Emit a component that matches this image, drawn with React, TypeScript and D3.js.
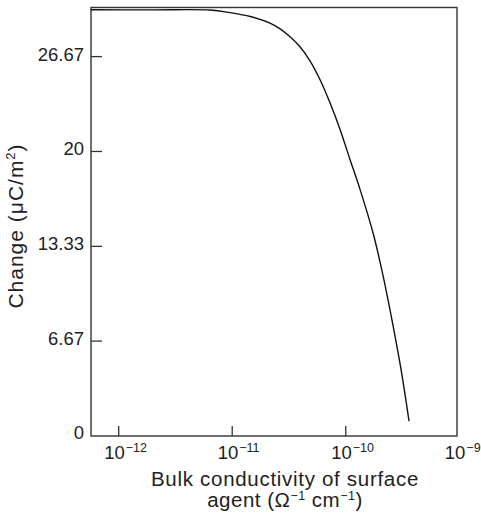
import React from "react";
import * as d3 from "d3";

// Bulk conductivity of the surface agent (Ω⁻¹ cm⁻¹)
const conductivity = [
  5.7e-13, 1.89e-12, 6.37e-12, 9.55e-12, 1.44e-11, 2.15e-11, 2.64e-11, 3.23e-11,
  3.95e-11, 4.84e-11, 5.94e-11, 7.28e-11, 8.91e-11, 1.09e-10, 1.34e-10,
  1.75e-10, 2.14e-10, 2.62e-10, 3.11e-10, 3.61e-10,
];
// Charge (µC/m²)
const charge = [
  29.96, 29.95, 29.94, 29.76, 29.49, 29.02, 28.62, 28.06, 27.36, 26.37, 25.04,
  23.4, 21.55, 19.44, 17.3, 14.2, 11.2, 7.69, 4.41, 1.05,
];

const yTicks = [0, 6.67, 13.33, 20, 26.67];
const yTickLabels = ["0", "6.67", "13.33", "20", "26.67"];
const xTickExponents = [-12, -11, -10, -9];

const W = 481;
const H = 513;
const left = 91;
const right = 457;
const top = 7.5;
const bottom = 436;
const FONT = "'Liberation Sans', Arial, Helvetica, sans-serif";
const INK = "#222";

export default function App() {
  const x = d3
    .scaleLog()
    .domain([Math.pow(10, -12.244), Math.pow(10, -9.02)])
    .range([left, right]);
  const y = d3.scaleLinear().domain([0, 30.12]).range([bottom, top]);

  const pts = conductivity.map((c, i) => [x(c), y(charge[i])] as [number, number]);
  const line = d3.line().curve(d3.curveCatmullRom.alpha(0.5))(pts) || "";

  return (
    <svg
      width={W}
      height={H}
      style={{ position: "absolute", left: 0, top: 0, background: "#fff" }}
      fontFamily={FONT}
    >
      <rect x={0} y={0} width={W} height={H} fill="#fff" />
      {/* frame */}
      <rect
        x={left}
        y={top}
        width={right - left}
        height={bottom - top}
        fill="none"
        stroke="#333"
        strokeWidth={1.4}
      />
      {/* y ticks */}
      {yTicks.map((t, i) => (
        <g key={"y" + i}>
          {t !== 0 && (
            <line x1={left} x2={left + 11} y1={y(t)} y2={y(t)} stroke="#333" strokeWidth={1.3} />
          )}
          <text
            x={84}
            y={y(t) + (t === 0 ? 3 : 4)}
            textAnchor="end"
            fontSize={18.5}
            fill={INK}
          >
            {yTickLabels[i]}
          </text>
        </g>
      ))}
      {/* x ticks */}
      {xTickExponents.map((e) => {
        const px = x(Math.pow(10, e));
        return (
          <g key={"x" + e}>
            {e !== -9 && (
              <line x1={px} x2={px} y1={bottom} y2={bottom - 10} stroke="#333" strokeWidth={1.3} />
            )}
            <text x={px - 14.5} y={459} fontSize={18.5} fill={INK}>
              10
              <tspan fontSize={12.5} dy={-7.5} dx={1}>
                {"\u2212" + Math.abs(e)}
              </tspan>
            </text>
          </g>
        );
      })}
      {/* curve */}
      <path d={line} fill="none" stroke="#111" strokeWidth={1.4} />
      {/* x title */}
      <text x={285} y={486} textAnchor="middle" fontSize={20.5} letterSpacing={0.7} fill={INK}>
        Bulk conductivity of surface
      </text>
      <text x={285} y={507} textAnchor="middle" fontSize={20.5} letterSpacing={0.5} fill={INK}>
        agent (Ω
        <tspan fontSize={12.5} dy={-7}>
          {"\u22121"}
        </tspan>
        <tspan dy={7}> cm</tspan>
        <tspan fontSize={12.5} dy={-7}>
          {"\u22121"}
        </tspan>
        <tspan dy={7}>)</tspan>
      </text>
      {/* y title */}
      <text
        transform={`translate(23,${226}) rotate(-90)`}
        textAnchor="middle"
        fontSize={21}
        letterSpacing={1}
        fill={INK}
      >
        Change (μC/m
        <tspan fontSize={13} dy={-8}>
          2
        </tspan>
        <tspan dy={8}>)</tspan>
      </text>
    </svg>
  );
}
